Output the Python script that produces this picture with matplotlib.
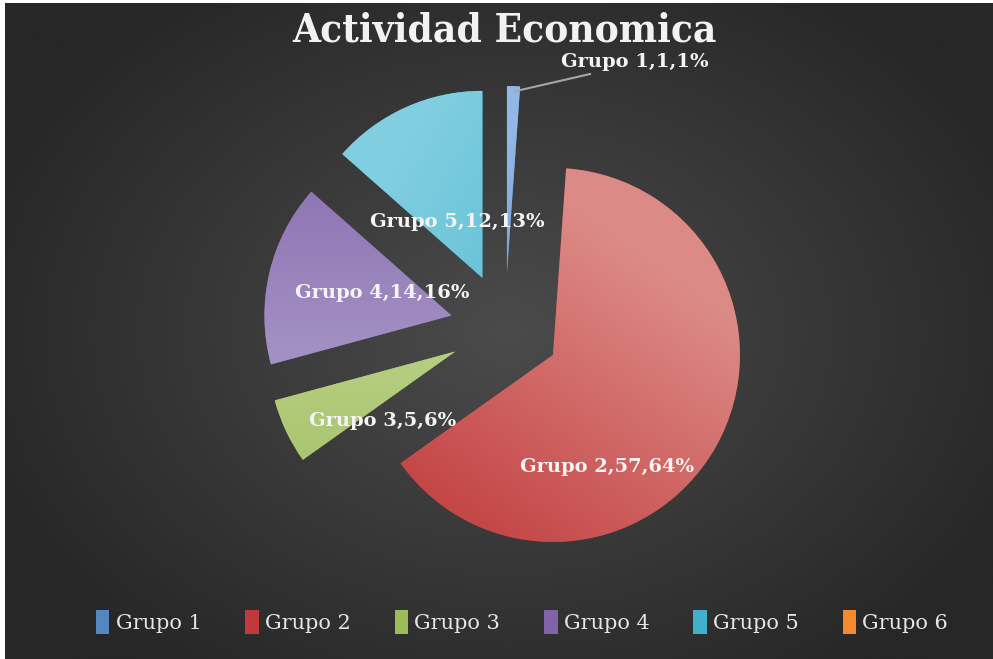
import numpy as np
import matplotlib
matplotlib.use("Agg")
import matplotlib.pyplot as plt
from matplotlib.colors import to_rgb
from matplotlib.patches import Patch

# data
grupos = ["Grupo 1", "Grupo 2", "Grupo 3", "Grupo 4", "Grupo 5", "Grupo 6"]
valores = [1, 57, 5, 14, 12, 0]
porcentajes = ["1%", "64%", "6%", "16%", "13%", "0%"]

# colours: (light, dark) per slice
claros = ["#93b7e4", "#dc8a86", "#c4d897", "#ae9fcd", "#80cee0", "#f9a660"]
oscuros = ["#5585c2", "#c03a3b", "#9cbc5b", "#8063a8", "#43b0cb", "#f38a2e"]
# direction (deg) where the light end of each slice gradient sits
grad_ang = [90, 55, 90, 270, 150, 90]

# label positions in pixels (x, y from top)
pos_etiquetas = [(635, 62), (607, 467), (383, 421), (382, 293), (457, 222), None]

W, H = 993, 659
fig = plt.figure(figsize=(W / 100, H / 100), dpi=100, facecolor="white")
ax = fig.add_axes([0, 0, 1, 1])
ax.set_axis_off()

# radial dark background
yy, xx = np.mgrid[0:H, 0:W]
d = np.sqrt(((xx - 505) / 560.0) ** 2 + ((yy - 330) / 420.0) ** 2)
d = np.clip(d, 0, 1)
c_in = np.array(to_rgb("#4b4b4b"))
c_out = np.array(to_rgb("#272727"))
bg = c_in[None, None, :] * (1 - d[..., None]) + c_out[None, None, :] * d[..., None]
ax.imshow(bg, extent=[5, W, 0, H - 3], origin="upper", aspect="auto", zorder=0)

wedges, _ = ax.pie(valores, startangle=90, counterclock=False,
                   center=(505, H - 328), radius=187, explode=[55] * 6,
                   colors=oscuros, wedgeprops=dict(linewidth=0), frame=True)

# gradient fill clipped to each wedge
for w, c1, c2, ang in zip(wedges, claros, oscuros, grad_ang):
    cx, cy = w.center
    r = w.r
    gy, gx = np.mgrid[-1:1:200j, -1:1:200j]
    t = (gx * np.cos(np.radians(ang)) + gy * np.sin(np.radians(ang)) + 1.3) / 2
    t = np.clip(t, 0, 1)[..., None]
    img = np.array(to_rgb(c2)) * (1 - t) + np.array(to_rgb(c1)) * t
    im = ax.imshow(img, extent=[cx - r, cx + r, cy - r, cy + r], origin="lower",
                   aspect="auto", zorder=2)
    im.set_clip_path(w)

fuente = "DejaVu Serif"
for i, (g, v, p) in enumerate(zip(grupos, valores, porcentajes)):
    if pos_etiquetas[i] is None:
        continue
    x, y = pos_etiquetas[i]
    ax.text(x, H - y, f"{g},{v},{p}", ha="center", va="center", fontsize=14,
            color="#f4f4f4", family=fuente, fontweight="bold", zorder=5)

# leader line for the small slice
w = wedges[0]
mid = np.radians((w.theta1 + w.theta2) / 2)
x0 = w.center[0] + w.r * np.cos(mid)
y0 = w.center[1] + w.r * np.sin(mid)
ax.plot([x0 + 2, 590], [y0 - 5, H - 74], color="#a6a6a6", lw=1.5, zorder=4)

ax.text(505, H - 30, "Actividad Economica", ha="center", va="center",
        fontsize=29, fontweight="bold", color="#f2f2f2", family=fuente,
        fontstretch="condensed", zorder=5)

handles = [Patch(facecolor=c, edgecolor="none") for c in oscuros]
leg = fig.legend(handles, grupos, loc="center", bbox_to_anchor=(522 / W, 1 - 622 / H),
                 ncol=6, frameon=False, handlelength=0.65,
                 handleheight=1.4, handletextpad=0.3, columnspacing=2.1,
                 prop=dict(family=fuente, size=15))
for t in leg.get_texts():
    t.set_color("#e6e6e6")

ax.set_xlim(0, W)
ax.set_ylim(0, H)
ax.set_aspect("equal")

fig.savefig("out.png", dpi=100, facecolor=fig.get_facecolor())
